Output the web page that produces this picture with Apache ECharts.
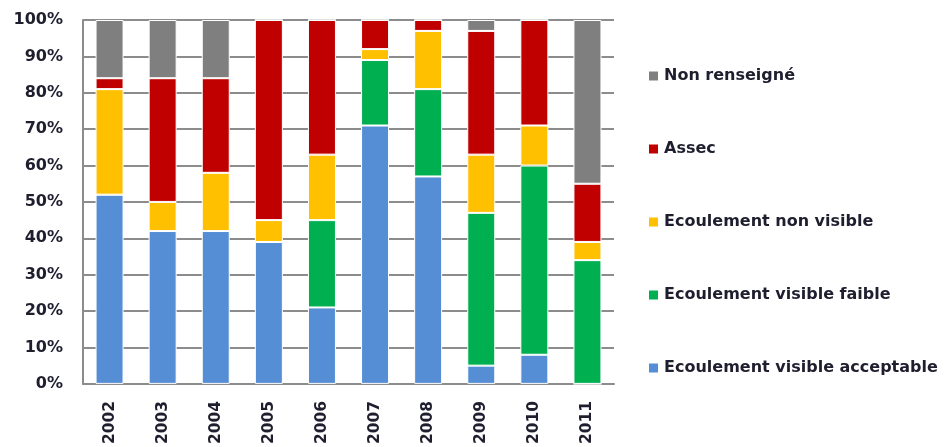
<!DOCTYPE html>
<html><head><meta charset="utf-8">
<script src="https://cdn.jsdelivr.net/npm/echarts@6/dist/echarts.min.js"></script>
<style>html,body{margin:0;padding:0;background:#fff}#c{width:944px;height:447px}</style>
</head><body><div id="c"></div>
<script>
var categories = ['2002','2003','2004','2005','2006','2007','2008','2009','2010','2011'];
var acceptable = [52, 42, 42, 39, 21, 71, 57, 5, 8, 0];
var faible     = [0, 0, 0, 0, 24, 18, 24, 42, 52, 34];
var nonVisible = [29, 8, 16, 6, 18, 3, 16, 16, 11, 5];
var assec      = [3, 34, 26, 55, 37, 8, 3, 34, 29, 16];
var nonRens    = [16, 16, 16, 0, 0, 0, 0, 3, 0, 45];
var yTicks = [0,10,20,30,40,50,60,70,80,90,100];

var font = '"DejaVu Sans", sans-serif';
var txt = '#1e1e2e';
function s(name, data, color){
  return {name:name, type:'bar', stack:'t', data:data, barWidth:28,
    itemStyle:{color:color, borderColor:'#fff', borderWidth:1}};
}
var chart = echarts.init(document.getElementById('c'));
chart.setOption({
  animation:false,
  grid:{left:83, right:330, top:20, bottom:62},
  legend:{
    orient:'vertical', left:647, top:66, padding:0, itemWidth:11, itemHeight:11, itemGap:53,
    icon:'rect',
    data:['Non renseigné','Assec','Ecoulement non visible','Ecoulement visible faible','Ecoulement visible acceptable'],
    textStyle:{fontFamily:font, fontSize:16, fontWeight:'bold', color:txt, lineHeight:20}
  },
  xAxis:{type:'category', data:categories,
    axisLine:{lineStyle:{color:'#8c8c8c', width:2}},
    axisTick:{show:false},
    axisLabel:{rotate:90, fontFamily:font, fontSize:15.5, fontWeight:'bold', color:txt, margin:17}
  },
  yAxis:{type:'value', min:0, max:100, interval:10,
    axisLine:{show:true, lineStyle:{color:'#8c8c8c', width:2}},
    axisTick:{show:false},
    splitLine:{lineStyle:{color:'#8c8c8c', width:2}},
    axisLabel:{formatter:function(v){return yTicks.indexOf(v)>=0 ? v+'%' : '';}, fontFamily:font, fontSize:16, fontWeight:'bold', color:txt, margin:20}
  },
  series:[
    s('Ecoulement visible acceptable', acceptable, '#558ED5'),
    s('Ecoulement visible faible', faible, '#00B050'),
    s('Ecoulement non visible', nonVisible, '#FFC000'),
    s('Assec', assec, '#C00000'),
    s('Non renseigné', nonRens, '#7F7F7F')
  ]
});
</script></body></html>
